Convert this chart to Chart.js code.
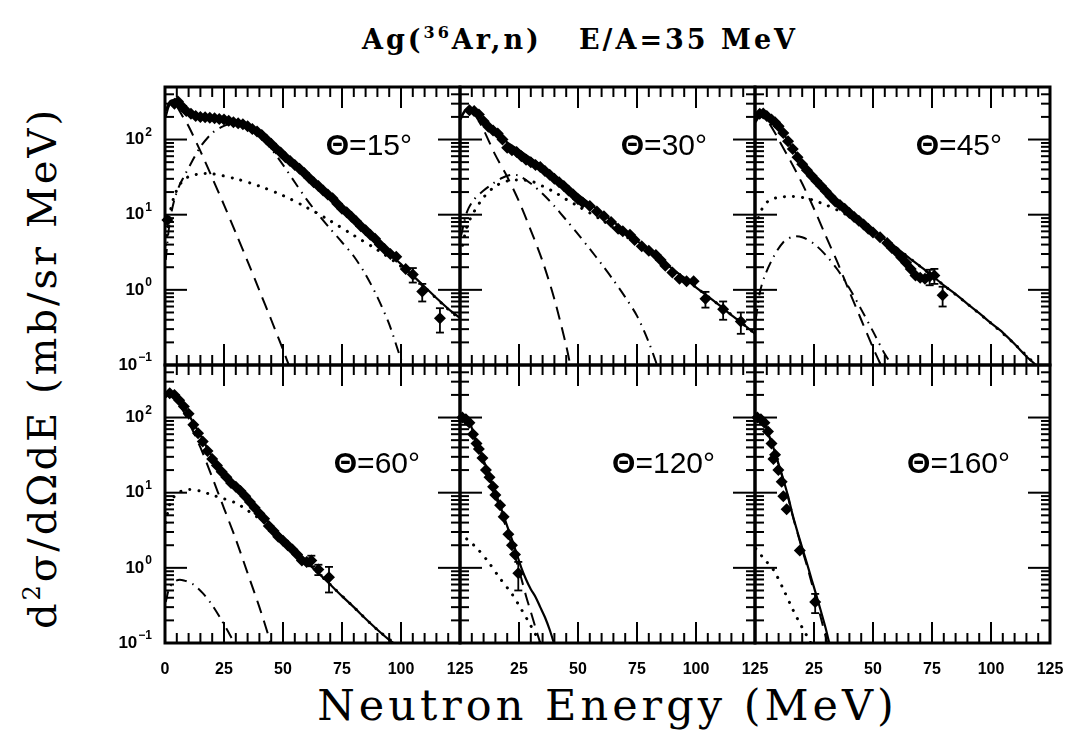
<!DOCTYPE html>
<html>
<head>
<meta charset="utf-8">
<script src="https://cdn.jsdelivr.net/npm/chart.js@4.4.0/dist/chart.umd.min.js"></script>
<style>
  body { margin: 0; background: #fff; }
  #wrap { position: relative; width: 1072px; height: 737px; overflow: hidden; background: #fff; }
  #wrap canvas { position: absolute; left: 0; top: 0; }
  #ttl { position: absolute; left: 230px; width: 700px; top: 24px; text-align: center;
         font: bold 27px "DejaVu Serif"; letter-spacing: 3px; white-space: pre; }
  #ttl sup { font-size: 16px; vertical-align: 11px; line-height: 0; }
  #xt { position: absolute; left: 165px; width: 885px; top: 680px; text-align: center;
        font: 43px "DejaVu Serif"; letter-spacing: 4px; }
  #yt { position: absolute; left: 42px; top: 368px; transform: translate(-50%, -50%) rotate(-90deg);
        font: 40px "DejaVu Serif"; letter-spacing: 3px; white-space: nowrap; }
  #yt sup { font-size: 24px; vertical-align: 16px; line-height: 0; }
</style>
</head>
<body>
<div id="wrap">
  <div id="ttl">Ag(<sup>36</sup>Ar,n)   E/A=35 MeV</div>
  <div id="yt">d<sup>2</sup>σ/dΩdE (mb/sr MeV)</div>
  <div id="xt">Neutron Energy (MeV)</div>
</div>
<script>
// tick values / labels
const xMajor = [0, 25, 50, 75, 100, 125];
const xMinorStep = 5;
const yDecades = [0.1, 1, 10, 100];
const yExp = ["\u22121", "0", "1", "2"];

// measured points [E, value, error]
const pts15 = [[1,8.5],[4,300],[5.5,320],[7,280],[9,240],[11,220],[13,205],[15,200],[17,198],[19,195],[21,192],[23,188],[25,185],[27,178],[29,170],[31,165],[33,160],[35,150],[37,138],[39,128],[41,115],[43,100],[45,88],[47,76],[49,67],[51,58],[53,52],[55,46],[57,41],[59,36],[61,31],[63,27],[65,24],[67,21],[69,18.5],[71,16.5],[73,14],[75,12],[77,10.8],[79,9.4],[81,8.2],[83,7],[85,6.2],[87,5.4],[89,4.8],[91,4],[93,3.5],[95.5,3.0],[98,2.75],[102,1.9],[105,1.6,0.35],[109,0.95,0.25],[116.5,0.42,0.15]];
const pts30 = [[4,245],[6,240],[8,215],[10,175],[12,148],[14,132],[16,120],[18,100],[20,78],[22,72],[24,68],[26,60],[28,54],[30,50],[32,46],[34,43],[36,38],[38,34],[40,30],[42,27],[44,24],[46,21],[48,18.5],[50,16],[52,14.5],[55,13],[58,11],[61,9.5],[64,8],[67,6.5],[69,6],[72,5.4],[74,4.6],[77,3.8],[80,3.3],[83,2.9],[85,2.5],[87,2.1],[90,1.7],[93,1.4],[96,1.3],[99,1.3],[104,0.76,0.18],[111.5,0.55,0.15],[119,0.38,0.12]];
const pts45 = [[2,220],[3.5,222],[5,205],[7,185],[8.5,170],[10,150],[12,122],[14,95],[16,75],[18,58],[20,47],[22,39],[24,33],[26,28],[28,24],[30,20.5],[32,17.5],[34,15],[36,13.5],[38,12],[40,10.5],[42,9.3],[44,8.3],[46,7.4],[48,6.5],[50,5.8],[53,5.0],[56,4.2],[58,3.6],[60,3.2],[62,2.7],[64,2.3],[66,1.9],[68,1.55],[70,1.45],[72,1.4],[74,1.5,0.35],[76,1.55,0.35],[79.5,0.85,0.25]];
const pts60 = [[2,210],[4,200],[6,170],[8,140],[10,112],[12,80],[14,62],[16,48],[18,36],[20,28],[22,23],[24,19],[26,16],[28,13.5],[30,12],[32,10.5],[34,9],[36,7.5],[38,6.3],[40,5.3],[42,4.5],[44,3.6],[46,3.1],[48,2.6],[50,2.3],[52,2.0],[54,1.75],[56,1.5],[58,1.25],[60,1.2],[62,1.25,0.2],[65,0.95,0.15],[69.5,0.75,0.28]];
const pts120 = [[1,100],[2.5,95],[4,85],[5.5,60],[7,45],[8,38],[9.5,29],[11,20],[12.5,16],[14,12],[15,9.3],[17,6.8],[18.5,4.8],[20.5,2.8],[22,2.0],[23.3,1.5],[24.7,0.85,0.35]];
const pts160 = [[1,100],[2.5,95],[4,85],[5.5,65],[7,45],[7.8,28],[8.5,32],[9.9,20],[11.3,14],[12,9],[13.4,6],[19,1.7],[25.5,0.35,0.1]];

// total fit (solid)
const tot15 = [[0.3,240],[2,320],[4,335],[6,300],[8,250],[10,225],[14,205],[18,198],[22,192],[26,182],[30,168],[34,148],[38,128],[42,102],[46,80],[50,63],[55,45],[60,33],[65,23.5],[70,17],[75,12],[80,8.6],[85,6.1],[90,4.3],[95,3.05],[100,2.2],[105,1.55],[110,1.1],[115,0.78],[120,0.56],[125,0.42]];
const tot30 = [[0.3,195],[2,240],[4,262],[6,245],[8,210],[10,175],[13,140],[16,118],[20,92],[25,72],[30,56],[35,44],[40,33],[45,25],[50,18.5],[55,14],[60,10.6],[65,8],[70,6],[75,4.5],[80,3.4],[85,2.55],[90,1.9],[95,1.45],[100,1.08],[105,0.82],[110,0.62],[115,0.46],[120,0.35],[125,0.26]];
const tot45 = [[0.3,180],[2,210],[3.5,215],[6,190],[8,170],[10,148],[12,122],[15,85],[20,50],[25,31],[30,21],[35,15],[40,11],[45,8.2],[50,6.2],[55,4.7],[60,3.6],[65,2.7],[70,2.05],[75,1.55],[80,1.15],[85,0.88],[90,0.65],[95,0.49],[100,0.36],[105,0.27],[110,0.19],[115,0.13],[119,0.1],[121,0.085]];
const tot60 = [[0.3,195],[2,218],[4,200],[6,170],[8,140],[10,110],[12,85],[15,58],[20,30],[25,18],[30,12],[35,8.2],[40,5.5],[45,3.7],[50,2.55],[55,1.75],[60,1.2],[65,0.85],[70,0.6],[75,0.42],[80,0.3],[85,0.21],[90,0.15],[95,0.11],[99,0.09]];
const tot120 = [[0.3,108],[2,102],[4,88],[6,58],[8,40],[10,27],[12,18.5],[14,12.5],[16,8.3],[18,5.5],[20,3.6],[22,2.4],[24,1.55],[26,1.0],[28,0.7],[30,0.52],[32,0.41],[34,0.3],[36,0.22],[38,0.15],[40,0.095]];
const tot160 = [[0.3,112],[2,102],[4,85],[6,57],[8,38],[10,24],[12,15],[14,9],[16,5.0],[18,3.0],[20,1.85],[22,1.15],[24,0.7],[26,0.43],[28,0.26],[30,0.155],[31.5,0.1],[32.5,0.085]];

// projectile-like source (dashed)
const dash15 = [[0.3,200],[2,290],[4,300],[6,245],[8,190],[10,150],[15,70],[20,31],[25,13.5],[30,5.7],[35,2.4],[40,0.98],[45,0.4],[50,0.16],[53,0.09]];
const dash30 = [[0.3,185],[2,235],[4,250],[6,220],[8,175],[10,135],[15,62],[20,32],[25,15],[30,6.2],[35,2.4],[40,0.75],[45,0.18],[47,0.09]];
const dash45 = [[0.3,170],[2,205],[4,200],[6,165],[8,130],[10,100],[15,52],[20,26],[25,12],[30,5.2],[35,2.3],[40,0.95],[45,0.4],[50,0.17],[54,0.09]];
const dash60 = [[0.3,185],[2,205],[4,185],[6,150],[8,118],[10,88],[15,40],[20,16],[25,6.2],[30,2.4],[35,0.85],[40,0.3],[44,0.12],[45,0.09]];
const dash120 = [[0.3,100],[2,96],[4,82],[6,55],[8,38],[10,25],[12,17],[14,11.3],[16,7.4],[18,4.8],[20,3.1],[22,1.95],[24,1.2],[26,0.72],[28,0.42],[30,0.26],[32,0.16],[34,0.1],[35,0.08]];
const dash160 = [[0.3,108],[2,99],[4,83],[6,56],[8,37],[10,23.5],[12,14.6],[14,8.7],[16,4.85],[18,2.9],[20,1.75],[22,1.07],[24,0.63],[26,0.37],[28,0.21],[30,0.12],[31,0.09]];

// intermediate-velocity source (dotted)
const dot15 = [[0.3,4],[2,10],[4,18],[7,27],[10,32],[15,35],[20,35],[30,30],[40,24],[50,18],[60,12.5],[70,8.3],[80,5.3],[90,3.4],[100,2.05],[110,1.08],[120,0.55],[125,0.41]];
const dot30 = [[0.3,3],[3,7],[6,11],[10,17],[15,24],[20,28],[25,29],[30,28],[35,24],[40,20],[45,16],[50,13],[60,8.5],[70,5.2],[80,3.2],[90,1.9],[100,1.08],[110,0.62],[120,0.35],[125,0.26]];
const dot45 = [[0.3,7],[3,12],[6,15.5],[10,17],[15,17.5],[20,17],[25,15.5],[30,13.5],[35,11.5],[40,9.5],[50,6.2],[60,3.6],[70,2.05],[80,1.15],[90,0.65],[100,0.36],[110,0.19],[119,0.1]];
const dot60 = [[0.3,4],[2,7],[4,9],[6,10.2],[10,11],[15,10.5],[20,9.3],[25,8.3],[30,7.3],[35,5.8],[40,4.5],[45,3.4],[50,2.5],[55,1.75],[60,1.2],[70,0.6],[80,0.3],[90,0.15],[99,0.09]];
const dot120 = [[0.3,3],[3,2.4],[7,1.85],[12,1.2],[17,0.72],[22,0.45],[26,0.28],[30,0.17],[34,0.1],[35,0.09]];
const dot160 = [[0.3,1.8],[4,1.3],[8,0.92],[12,0.52],[16,0.28],[20,0.16],[23,0.11],[24,0.095]];

// target-like source (dash-dot)
const dd15 = [[0.3,2.5],[2,8],[4,16],[6,24],[8,32],[12,55],[15,80],[20,122],[25,152],[30,165],[35,150],[40,112],[45,75],[50,46],[55,27],[60,16],[65,10],[70,6.5],[75,4.3],[80,2.8],[85,1.6],[90,0.8],[95,0.35],[100,0.12],[102,0.09]];
const dd30 = [[0.3,5],[3,11],[6,16],[10,21],[14,26],[18,31],[22,34],[25,33],[30,26],[35,19],[40,13],[45,8.5],[50,5.5],[55,3.5],[60,2.2],[65,1.35],[70,0.8],[75,0.45],[80,0.2],[84,0.09]];
const dd45 = [[0.3,0.4],[2,0.9],[4,1.5],[8,2.8],[12,4.3],[16,5.1],[20,5.0],[25,4.1],[30,2.9],[35,1.85],[40,1.05],[45,0.55],[50,0.28],[55,0.14],[59,0.09]];
const dd60 = [[0.3,0.35],[2,0.55],[5,0.68],[8,0.68],[12,0.6],[16,0.46],[20,0.32],[24,0.2],[28,0.12],[30,0.09]];

const panels = [
  { ang: "15",  col: 0, row: 0, pts: pts15,  tot: tot15,  dash: dash15,  dot: dot15,  dd: dd15 },
  { ang: "30",  col: 1, row: 0, pts: pts30,  tot: tot30,  dash: dash30,  dot: dot30,  dd: dd30 },
  { ang: "45",  col: 2, row: 0, pts: pts45,  tot: tot45,  dash: dash45,  dot: dot45,  dd: dd45 },
  { ang: "60",  col: 0, row: 1, pts: pts60,  tot: tot60,  dash: dash60,  dot: dot60,  dd: dd60 },
  { ang: "120", col: 1, row: 1, pts: pts120, tot: tot120, dash: dash120, dot: dot120, dd: [] },
  { ang: "160", col: 2, row: 1, pts: pts160, tot: tot160, dash: dash160, dot: dot160, dd: [] }
];

const W = 1072, H = 737;
const colX = [165, 460, 755, 1050];
const rowY = [87, 365, 643];

const xy = (arr) => arr.map((p) => ({ x: p[0], y: p[1] }));

const line = (ctx, x1, y1, x2, y2) => {
  ctx.beginPath();
  ctx.moveTo(x1, y1);
  ctx.lineTo(x2, y2);
  ctx.stroke();
};

// frame, inward ticks, error bars and labels
const panelDeco = {
  id: "panelDeco",
  afterDatasetsDraw(chart, args, o) {
    const { ctx, chartArea: a } = chart;
    const xs = chart.scales.x, ys = chart.scales.y;
    ctx.save();
    ctx.strokeStyle = "#000";
    ctx.fillStyle = "#000";

    // error bars
    ctx.lineWidth = 1.8;
    o.pts.forEach((p) => {
      if (!p[2]) return;
      const px = xs.getPixelForValue(p[0]);
      const t = ys.getPixelForValue(p[1] + p[2]);
      const b = ys.getPixelForValue(Math.max(p[1] - p[2], 0.01));
      line(ctx, px, t, px, b);
      line(ctx, px - 4, t, px + 4, t);
      line(ctx, px - 4, b, px + 4, b);
    });

    // ticks
    ctx.lineWidth = 2;
    for (let e = 0; e <= 125; e += xMinorStep) {
      const px = xs.getPixelForValue(e);
      const len = xMajor.includes(e) ? 21 : 10;
      line(ctx, px, a.bottom, px, a.bottom - len);
      line(ctx, px, a.top, px, a.top + len);
    }
    yDecades.forEach((d) => {
      for (let m = 1; m <= 9; m++) {
        const v = d * m;
        if (v > ys.max) break;
        const py = ys.getPixelForValue(v);
        const len = m === 1 ? 22 : 9;
        line(ctx, a.left, py, a.left + len, py);
        line(ctx, a.right, py, a.right - len, py);
      }
    });

    // frame
    ctx.lineWidth = 3;
    ctx.strokeRect(a.left, a.top, a.right - a.left, a.bottom - a.top);

    // y tick labels (left column)
    if (o.col === 0) {
      ctx.textBaseline = "middle";
      yDecades.forEach((d, i) => {
        const py = ys.getPixelForValue(d);
        ctx.font = 'bold 12px "Liberation Sans"';
        const ew = ctx.measureText(yExp[i]).width;
        const right = a.left - 13;
        ctx.textAlign = "right";
        ctx.fillText(yExp[i], right, py - 7);
        ctx.font = 'bold 17px "Liberation Sans"';
        ctx.fillText("10", right - ew - 1, py);
      });
    }
    // x tick labels (bottom row)
    if (o.row === 1) {
      ctx.font = 'bold 16px "Liberation Sans"';
      ctx.textAlign = "center";
      ctx.textBaseline = "middle";
      xMajor.forEach((e) => {
        if (e === 0 && o.col > 0) return;
        ctx.fillText(String(e), xs.getPixelForValue(e), a.bottom + 27);
      });
    }

    // angle label
    const rest = "=" + o.ang + "\u00b0";
    ctx.textBaseline = "alphabetic";
    ctx.textAlign = "left";
    ctx.font = '30px "Liberation Sans"';
    const rw = ctx.measureText(rest).width;
    ctx.font = 'bold 30px "Liberation Sans"';
    const tw = ctx.measureText("\u0398").width;
    const rx = a.right - (o.row === 0 ? 48 : 40);
    const by = a.top + (o.row === 0 ? 68 : 108);
    ctx.fillText("\u0398", rx - rw - tw, by);
    ctx.font = '30px "Liberation Sans"';
    ctx.fillText(rest, rx - rw, by);
    ctx.restore();
  }
};

const curve = (data, dash, cap, width) => ({
  data: xy(data),
  showLine: true,
  borderColor: "#000",
  borderWidth: width,
  borderDash: dash,
  borderCapStyle: cap,
  pointRadius: 0,
  fill: false,
  tension: 0.3,
  clip: 0
});

const wrap = document.getElementById("wrap");
panels.forEach((p) => {
  const cv = document.createElement("canvas");
  cv.width = W;
  cv.height = H;
  wrap.appendChild(cv);
  new Chart(cv, {
    type: "scatter",
    data: {
      datasets: [
        curve(p.dd, [11, 6, 1.5, 6], "butt", 2),
        curve(p.dot, [0.1, 9], "round", 3),
        curve(p.dash, [13, 8], "butt", 2),
        curve(p.tot, [], "butt", 2.2),
        {
          data: xy(p.pts),
          showLine: false,
          pointStyle: "rectRot",
          pointRadius: 6,
          pointBackgroundColor: "#000",
          pointBorderWidth: 0,
          clip: 4
        }
      ]
    },
    options: {
      responsive: false,
      animation: false,
      events: [],
      layout: {
        padding: {
          left: colX[p.col],
          right: W - colX[p.col + 1],
          top: rowY[p.row],
          bottom: H - rowY[p.row + 1]
        }
      },
      scales: {
        x: { type: "linear", min: 0, max: 125, display: false },
        y: { type: "logarithmic", min: 0.1, max: 500, display: false }
      },
      plugins: {
        legend: { display: false },
        tooltip: { enabled: false },
        panelDeco: p
      }
    },
    plugins: [panelDeco]
  });
});
</script>
</body>
</html>
